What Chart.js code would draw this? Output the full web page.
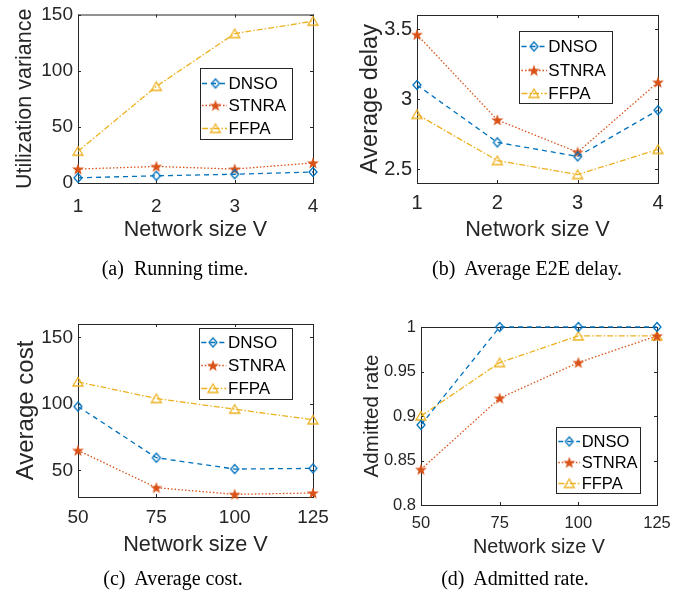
<!DOCTYPE html>
<html>
<head>
<meta charset="utf-8">
<script src="https://cdn.jsdelivr.net/npm/chart.js@4.4.0/dist/chart.umd.min.js"></script>
<style>
    html, body { margin: 0; padding: 0; background: #fff; }
    #page { position: relative; width: 694px; height: 601px; overflow: hidden; background: #fff; }
    .panel { position: absolute; width: 347px; height: 270px; }
    .caption {
        position: absolute;
        font-family: "Liberation Serif", "Times New Roman", serif;
        font-size: 20px;
        color: #000;
        white-space: nowrap;
        transform: translate(-50%, -50%);
    }
</style>
</head>
<body>
<div id="page">
    <div class="panel" style="left:0;top:0"><canvas id="chartA" width="347" height="270"></canvas></div>
    <div class="panel" style="left:347px;top:0"><canvas id="chartB" width="347" height="270"></canvas></div>
    <div class="panel" style="left:0;top:300px"><canvas id="chartC" width="347" height="270"></canvas></div>
    <div class="panel" style="left:347px;top:300px"><canvas id="chartD" width="347" height="270"></canvas></div>

    <div class="caption" style="left:175px;top:268px">(a)&nbsp; Running time.</div>
    <div class="caption" style="left:527px;top:268px">(b)&nbsp; Average E2E delay.</div>
    <div class="caption" style="left:173px;top:578px">(c)&nbsp; Average cost.</div>
    <div class="caption" style="left:515px;top:578px">(d)&nbsp; Admitted rate.</div>
</div>

<script>
// ── Data ──────────────────────────────────────────────────────
const SERIES = ['DNSO', 'STNRA', 'FFPA'];

const SIZE_SMALL = [1, 2, 3, 4];
const SIZE_LARGE = [50, 75, 100, 125];

// (a) utilization variance
const UTIL_DNSO  = [4.6, 6.4, 7.8, 9.8];
const UTIL_STNRA = [12.4, 14.7, 12.4, 17.9];
const UTIL_FFPA  = [28.3, 86, 133, 144];
const UTIL_TICKS = [0, 50, 100, 150];

// (b) average E2E delay
const DELAY_DNSO  = [3.10, 2.69, 2.59, 2.92];
const DELAY_STNRA = [3.46, 2.85, 2.62, 3.12];
const DELAY_FFPA  = [2.89, 2.56, 2.46, 2.64];
const DELAY_TICKS = [2.5, 3, 3.5];

// (c) average cost
const COST_DNSO  = [98, 59.5, 51, 51.5];
const COST_STNRA = [65, 37, 32, 33];
const COST_FFPA  = [116.5, 104, 96, 88];
const COST_TICKS = [50, 100, 150];

// (d) admitted rate
const RATE_DNSO  = [0.89, 1, 1, 1];
const RATE_STNRA = [0.84, 0.92, 0.96, 0.99];
const RATE_FFPA  = [0.90, 0.96, 0.99, 0.99];
const RATE_TICKS = [0.8, 0.85, 0.9, 0.95, 1];

// ── Styles ────────────────────────────────────────────────────
const AXIS_COLOR = '#262626';
const COLORS = ['#0072BD', '#D95319', '#EDB120'];
const DASHES = [[5, 4], [1.5, 2], [6, 2, 1.5, 2]];
const SANS = '"Liberation Sans", Arial, sans-serif';

function makeMarker(kind, color) {
    const c = document.createElement('canvas');
    c.width = 14;
    c.height = 14;
    const g = c.getContext('2d');
    const m = 7;
    g.strokeStyle = color;
    g.fillStyle = color;
    g.lineWidth = 1.3;
    g.beginPath();
    if (kind === 'diamond') {
        g.moveTo(m, m - 4.5);
        g.lineTo(m + 4, m);
        g.lineTo(m, m + 4.5);
        g.lineTo(m - 4, m);
        g.closePath();
        g.stroke();
    } else if (kind === 'star') {
        for (let i = 0; i < 10; i++) {
            const r = i % 2 ? 2.6 : 6.3;
            const a = -Math.PI / 2 + i * Math.PI / 5;
            const px = m + r * Math.cos(a), py = m + 0.5 + r * Math.sin(a);
            i ? g.lineTo(px, py) : g.moveTo(px, py);
        }
        g.closePath();
        g.fill();
    } else {
        g.moveTo(m, m - 4.5);
        g.lineTo(m + 5, m + 4);
        g.lineTo(m - 5, m + 4);
        g.closePath();
        g.stroke();
    }
    return c;
}

const MARKERS = [
    makeMarker('diamond', COLORS[0]),
    makeMarker('star', COLORS[1]),
    makeMarker('triangle', COLORS[2])
];

// ── Box, inward ticks and legend ──────────────────────────────
const matlabAxes = {
    id: 'matlabAxes',
    beforeDatasetsDraw(chart) {
        const { ctx, chartArea: a, scales: { x, y } } = chart;
        ctx.save();
        ctx.strokeStyle = AXIS_COLOR;
        ctx.lineWidth = 1;
        ctx.strokeRect(a.left + 0.5, a.top + 0.5, a.width, a.height);
        ctx.beginPath();
        x.ticks.forEach(t => {
            const px = Math.round(x.getPixelForValue(t.value)) + 0.5;
            ctx.moveTo(px, a.bottom); ctx.lineTo(px, a.bottom - 3);
            ctx.moveTo(px, a.top);    ctx.lineTo(px, a.top + 3);
        });
        y.ticks.forEach(t => {
            const py = Math.round(y.getPixelForValue(t.value)) + 0.5;
            ctx.moveTo(a.left, py);  ctx.lineTo(a.left + 3, py);
            ctx.moveTo(a.right, py); ctx.lineTo(a.right - 3, py);
        });
        ctx.stroke();
        ctx.restore();
    },
    afterDatasetsDraw(chart, args, opts) {
        const L = opts.legend;
        const { ctx, chartArea: a } = chart;
        const bx = Math.round(a.left + L.x), by = Math.round(a.top + L.y);
        ctx.save();
        ctx.fillStyle = '#fff';
        ctx.fillRect(bx, by, L.w, L.h);
        ctx.strokeStyle = AXIS_COLOR;
        ctx.lineWidth = 1;
        ctx.strokeRect(bx + 0.5, by + 0.5, L.w, L.h);
        ctx.font = `${L.font}px ${SANS}`;
        ctx.textBaseline = 'middle';
        ctx.textAlign = 'left';
        chart.data.datasets.forEach((ds, i) => {
            const cy = Math.round(by + L.row0 + L.step * i) + 0.5;
            ctx.strokeStyle = ds.borderColor;
            ctx.lineWidth = ds.borderWidth;
            ctx.setLineDash(ds.borderDash);
            ctx.beginPath();
            ctx.moveTo(bx + L.line0, cy);
            ctx.lineTo(bx + L.line1, cy);
            ctx.stroke();
            ctx.setLineDash([]);
            const mk = ds.pointStyle;
            ctx.drawImage(mk, bx + L.mark - mk.width / 2, cy - mk.height / 2);
            ctx.fillStyle = '#000';
            ctx.fillText(ds.label, bx + L.text, cy + 1);
        });
        ctx.restore();
    }
};

const fmt = v => String(+Number(v).toFixed(4));

// ── Panel builder ─────────────────────────────────────────────
function renderPanel(id, p) {
    const datasets = SERIES.map((name, i) => ({
        label: name,
        data: p.xs.map((x, j) => ({ x, y: p.ys[i][j] })),
        borderColor: COLORS[i],
        borderWidth: 1.3,
        borderDash: DASHES[i],
        pointStyle: MARKERS[i],
        pointRadius: 5,
        clip: false,
        tension: 0,
        fill: false
    }));

    return new Chart(document.getElementById(id).getContext('2d'), {
        type: 'line',
        data: { datasets },
        options: {
            responsive: false,
            animation: false,
            events: [],
            layout: { padding: { left: 0, top: p.top, right: p.right, bottom: 0 } },
            plugins: {
                legend: { display: false },
                tooltip: { enabled: false },
                matlabAxes: { legend: p.legend }
            },
            scales: {
                x: {
                    type: 'linear',
                    min: p.xs[0],
                    max: p.xs[p.xs.length - 1],
                    afterBuildTicks: s => { s.ticks = p.xs.map(v => ({ value: v })); },
                    afterFit: s => { s.height = p.xAxisH; },
                    grid: { display: false, drawTicks: false },
                    border: { display: false },
                    ticks: {
                        autoSkip: false, maxRotation: 0,
                        padding: p.xTickPad,
                        color: AXIS_COLOR,
                        font: { family: SANS, size: p.xTickFont },
                        callback: fmt
                    },
                    title: {
                        display: true,
                        text: 'Network size V',
                        color: AXIS_COLOR,
                        font: { family: SANS, size: p.xTitleFont },
                        padding: { top: 0, bottom: p.xTitlePad }
                    }
                },
                y: {
                    type: 'linear',
                    min: p.yMin,
                    max: p.yMax,
                    afterBuildTicks: s => { s.ticks = p.yTicks.map(v => ({ value: v })); },
                    afterFit: s => { s.width = p.yAxisW; },
                    grid: { display: false, drawTicks: false },
                    border: { display: false },
                    ticks: {
                        autoSkip: false,
                        padding: p.yTickPad,
                        color: AXIS_COLOR,
                        font: { family: SANS, size: p.yTickFont, lineHeight: 1 },
                        callback: fmt
                    },
                    title: {
                        display: true,
                        text: p.yTitle,
                        color: AXIS_COLOR,
                        font: { family: SANS, size: p.yTitleFont },
                        padding: { top: p.yTitlePad, bottom: 0 }
                    }
                }
            }
        },
        plugins: [matlabAxes]
    });
}

// ── Bootstrap ────────────────────────────────────────────────
renderPanel('chartA', {
    xs: SIZE_SMALL, ys: [UTIL_DNSO, UTIL_STNRA, UTIL_FFPA],
    yMin: 0, yMax: 150, yTicks: UTIL_TICKS, yTitle: 'Utilization variance',
    top: 10, right: 34, yAxisW: 78, xAxisH: 87,
    xTickFont: 19, xTickPad: 12, xTitleFont: 21.5, xTitlePad: 27,
    yTickFont: 19, yTickPad: 5, yTitleFont: 21.5, yTitlePad: 12,
    legend: { x: 122, y: 53, w: 92, h: 71, font: 17, row0: 14.5, step: 22.8, line0: 2, line1: 27, mark: 15.5, text: 28.5 }
});

renderPanel('chartB', {
    xs: SIZE_SMALL, ys: [DELAY_DNSO, DELAY_STNRA, DELAY_FFPA],
    yMin: 2.4, yMax: 3.6, yTicks: DELAY_TICKS, yTitle: 'Average delay',
    top: 10, right: 36, yAxisW: 70, xAxisH: 87,
    xTickFont: 20, xTickPad: 8, xTitleFont: 21.7, xTitlePad: 27,
    yTickFont: 20, yTickPad: 5, yTitleFont: 23.5, yTitlePad: 9,
    legend: { x: 102, y: 16, w: 93, h: 72, font: 17, row0: 14.7, step: 23.8, line0: 2.5, line1: 28, mark: 15, text: 29.3 }
});

renderPanel('chartC', {
    xs: SIZE_LARGE, ys: [COST_DNSO, COST_STNRA, COST_FFPA],
    yMin: 30, yMax: 160, yTicks: COST_TICKS, yTitle: 'Average cost',
    top: 24, right: 34, yAxisW: 78, xAxisH: 73,
    xTickFont: 19, xTickPad: 9.5, xTitleFont: 21.7, xTitlePad: 12,
    yTickFont: 19, yTickPad: 5, yTitleFont: 24, yTitlePad: 11.5,
    legend: { x: 121, y: 4, w: 93, h: 71, font: 17, row0: 13.7, step: 23.2, line0: 2.3, line1: 27.3, mark: 14, text: 29 }
});

renderPanel('chartD', {
    xs: SIZE_LARGE, ys: [RATE_DNSO, RATE_STNRA, RATE_FFPA],
    yMin: 0.8, yMax: 1, yTicks: RATE_TICKS, yTitle: 'Admitted rate',
    top: 27, right: 37, yAxisW: 74, xAxisH: 65,
    xTickFont: 16.5, xTickPad: 9, xTitleFont: 19.8, xTitlePad: 11,
    yTickFont: 16.5, yTickPad: 5, yTitleFont: 20.7, yTitlePad: 12.5,
    legend: { x: 135, y: 100, w: 84, h: 66, font: 16.5, row0: 14, step: 21, line0: 2.3, line1: 24, mark: 13.3, text: 25.7 }
});
</script>
</body>
</html>
